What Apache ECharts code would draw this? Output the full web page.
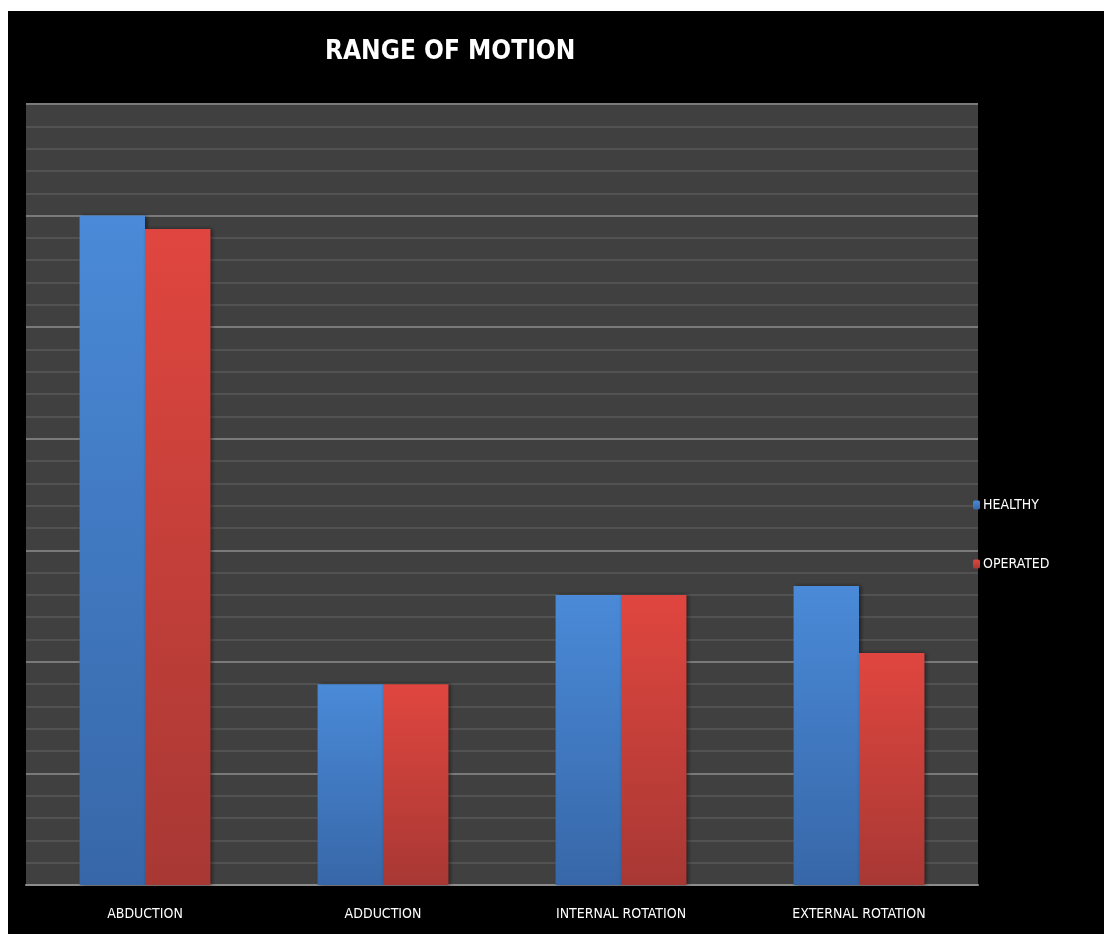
<!DOCTYPE html>
<html>
<head>
<meta charset="utf-8">
<script src="https://cdn.jsdelivr.net/npm/echarts@6/dist/echarts.min.js"></script>
<style>
html,body{margin:0;padding:0;background:#fff;}
#chart{width:1104px;height:934px;}
</style>
</head>
<body>
<div id="chart"></div>
<script>
const categories = ['ABDUCTION', 'ADDUCTION', 'INTERNAL ROTATION', 'EXTERNAL ROTATION'];
const seriesNames = ['HEALTHY', 'OPERATED'];
const healthy = [150, 45, 65, 67];
const operated = [147, 45, 65, 52];
const yMin = 0, yMax = 175, yInterval = 25;

const narrow = '"Liberation Sans Narrow", "DejaVu Sans Condensed", "Liberation Sans", sans-serif';

function grad(top, bottom) {
  return new echarts.graphic.LinearGradient(0, 0, 0, 1, [
    {offset: 0, color: top}, {offset: 1, color: bottom}
  ]);
}

const chart = echarts.init(document.getElementById('chart'));
chart.setOption({
  backgroundColor: '#ffffff',
  animation: false,
  graphic: [{
    type: 'rect', z: -10, silent: true,
    shape: {x: 8, y: 11, width: 1096, height: 923},
    style: {fill: '#000000'}
  }],
  title: {
    text: 'RANGE OF MOTION',
    left: 320, top: 34,
    textStyle: {color: '#ffffff', fontSize: 26, fontWeight: 'bold', fontFamily: narrow}
  },
  legend: {
    orient: 'vertical', left: 968, top: 493,
    itemWidth: 7, itemHeight: 9, itemGap: 45,
    data: seriesNames,
    textStyle: {color: '#ffffff', fontSize: 14, fontFamily: narrow, padding: [0,0,0,-2]}
  },
  grid: {
    left: 26, top: 104, width: 952, height: 781,
    show: true, backgroundColor: '#404040', borderWidth: 0
  },
  xAxis: {
    type: 'category', data: categories,
    axisLine: {show: true, lineStyle: {color: '#8c8c8c', width: 2}},
    axisTick: {show: false},
    axisLabel: {color: '#ffffff', fontSize: 14, fontFamily: narrow, margin: 22}
  },
  yAxis: {
    type: 'value', min: yMin, max: yMax, interval: yInterval,
    axisLine: {show: false}, axisTick: {show: false}, axisLabel: {show: false},
    splitLine: {show: true, lineStyle: {color: '#7a7a7a', width: 2}},
    minorTick: {show: false, splitNumber: 5},
    minorSplitLine: {show: true, lineStyle: {color: '#525252', width: 2}}
  },
  series: [{
    name: 'HEALTHY', type: 'bar', data: healthy,
    barGap: '0%', barCategoryGap: '45%',
    itemStyle: {color: grad('#4a8ad8', '#3767a8'), shadowColor: 'rgba(0,0,0,0.5)', shadowBlur: 4, shadowOffsetX: 2}
  }, {
    name: 'OPERATED', type: 'bar', data: operated,
    itemStyle: {color: grad('#e0463f', '#a83834'), shadowColor: 'rgba(0,0,0,0.5)', shadowBlur: 4, shadowOffsetX: 2}
  }]
});
</script>
</body>
</html>
